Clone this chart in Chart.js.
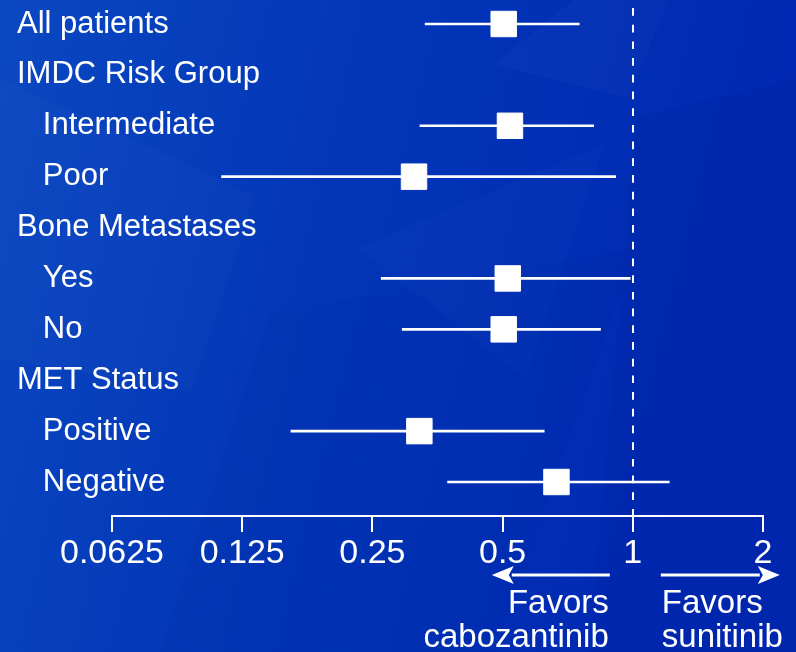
<!DOCTYPE html>
<html>
<head>
<meta charset="utf-8">
<script src="https://cdn.jsdelivr.net/npm/chart.js@4.4.1/dist/chart.umd.min.js"></script>
<style>
  html, body { margin: 0; padding: 0; background: #0234b5; overflow: hidden; }
  #wrap { width: 796px; height: 652px; position: relative; }
</style>
</head>
<body>
<div id="wrap"><canvas id="forest" width="796" height="652"></canvas></div>
<script>
// Subgroup rows, top to bottom
const rowLabels = ['All patients', 'IMDC Risk Group', 'Intermediate', 'Poor',
  'Bone Metastases', 'Yes', 'No', 'MET Status', 'Positive', 'Negative'];
const subRow = [false, false, true, true, false, true, true, false, true, true];

// Hazard ratio with 95% CI (null = group header row)
const hazardRatio = [0.503, null, 0.520, 0.312, null, 0.514, 0.503, null, 0.321, 0.666];
const ciLower     = [0.331, null, 0.322, 0.112, null, 0.262, 0.293, null, 0.162, 0.373];
const ciUpper     = [0.752, null, 0.812, 0.913, null, 0.986, 0.842, null, 0.624, 1.214];

// Axis
const tickValues = [0.0625, 0.125, 0.25, 0.5, 1, 2];
const tickLabels = ['0.0625', '0.125', '0.25', '0.5', '1', '2'];
const referenceHR = 1;
const favorsLeft = ['Favors', 'cabozantinib'];
const favorsRight = ['Favors', 'sunitinib'];

const FONT = '"Liberation Sans", Arial, Helvetica, sans-serif';
const WHITE = '#ffffff';

const markerPoints = [];
const whiskers = [];
rowLabels.forEach((_, i) => {
  if (hazardRatio[i] !== null) {
    markerPoints.push({ x: hazardRatio[i], y: i });
    whiskers.push({ x: [ciLower[i], ciUpper[i]], y: i });
  }
});

// Faceted blue backdrop
const backdrop = {
  id: 'backdrop',
  beforeDraw(chart) {
    const { ctx, width, height } = chart;
    ctx.save();
    const g = ctx.createLinearGradient(0, 0, width, height * 0.3);
    g.addColorStop(0, '#0a48c1');
    g.addColorStop(0.45, '#0336b7');
    g.addColorStop(1, '#0027b2');
    ctx.fillStyle = g;
    ctx.fillRect(0, 0, width, height);
    const facets = [
      { c: 'rgba(255,255,255,0.025)', p: [[0.72, 0], [0.84, 0], [0.79, 0.15], [0.62, 0.10]] },
      { c: 'rgba(255,255,255,0.018)', p: [[0, 0.12], [0.32, 0.30], [0.24, 0.60], [0, 0.55]] },
      { c: 'rgba(0,20,120,0.04)',     p: [[0.34, 0.48], [0.80, 0.38], [0.62, 1], [0.20, 1]] },
      { c: 'rgba(255,255,255,0.015)', p: [[0.45, 0.38], [0.76, 0.22], [0.66, 0.58]] },
      { c: 'rgba(0,10,100,0.05)',     p: [[0.80, 0.18], [1, 0.12], [1, 1], [0.74, 1]] }
    ];
    facets.forEach(f => {
      ctx.fillStyle = f.c;
      ctx.beginPath();
      f.p.forEach(([px, py], k) => {
        const X = px * width, Y = py * height;
        k ? ctx.lineTo(X, Y) : ctx.moveTo(X, Y);
      });
      ctx.closePath();
      ctx.fill();
    });
    ctx.restore();
  }
};

// Dashed line of no effect at HR = 1
const referenceLine = {
  id: 'referenceLine',
  beforeDatasetsDraw(chart) {
    const { ctx, chartArea } = chart;
    const x = Math.round(chart.scales.x.getPixelForValue(referenceHR));
    ctx.save();
    ctx.strokeStyle = WHITE;
    ctx.lineWidth = 2;
    ctx.setLineDash([7.7, 9]);
    ctx.beginPath();
    ctx.moveTo(x, chartArea.top + 8);
    ctx.lineTo(x, chartArea.bottom);
    ctx.stroke();
    ctx.restore();
  }
};

// Direction arrows and captions under the axis
const favorsNotes = {
  id: 'favorsNotes',
  afterDraw(chart) {
    const { ctx } = chart;
    const xs = chart.scales.x;
    const axisY = xs.top;
    const p1 = xs.getPixelForValue(referenceHR);
    const ay = axisY + 59;

    const arrow = (from, tip) => {
      const dir = Math.sign(tip - from);
      const headLen = 22, headHalf = 9;
      ctx.beginPath();
      ctx.moveTo(from, ay);
      ctx.lineTo(tip - dir * (headLen - 2), ay);
      ctx.stroke();
      ctx.beginPath();
      ctx.moveTo(tip, ay);
      ctx.lineTo(tip - dir * headLen, ay - headHalf);
      ctx.lineTo(tip - dir * (headLen - 5), ay);
      ctx.lineTo(tip - dir * headLen, ay + headHalf);
      ctx.closePath();
      ctx.fill();
    };

    ctx.save();
    ctx.strokeStyle = WHITE;
    ctx.fillStyle = WHITE;
    ctx.lineWidth = 3;
    arrow(p1 - 23, p1 - 141);
    arrow(p1 + 28, p1 + 147);

    ctx.font = '33px ' + FONT;
    ctx.textBaseline = 'alphabetic';
    ctx.textAlign = 'right';
    ctx.fillText(favorsLeft[0], p1 - 24, axisY + 97);
    ctx.fillText(favorsLeft[1], p1 - 24, axisY + 131);
    ctx.textAlign = 'left';
    ctx.fillText(favorsRight[0], p1 + 29, axisY + 97);
    ctx.fillText(favorsRight[1], p1 + 29, axisY + 131);
    ctx.restore();
  }
};

const Y_AXIS_WIDTH = 95;

new Chart(document.getElementById('forest'), {
  type: 'scatter',
  data: {
    datasets: [
      {
        type: 'scatter',
        data: markerPoints,
        pointStyle: 'rect',
        pointRadius: 18,
        pointHoverRadius: 18,
        backgroundColor: WHITE,
        borderColor: WHITE,
        borderWidth: 1,
        order: 1
      },
      {
        type: 'bar',
        indexAxis: 'y',
        data: whiskers,
        barThickness: 2,
        grouped: false,
        backgroundColor: WHITE,
        borderWidth: 0,
        order: 2
      }
    ]
  },
  options: {
    responsive: false,
    animation: false,
    events: [],
    layout: { autoPadding: false, padding: { left: 17, right: 33, top: 0, bottom: 0 } },
    plugins: { legend: { display: false }, tooltip: { enabled: false } },
    scales: {
      x: {
        type: 'logarithmic',
        position: 'bottom',
        min: tickValues[0],
        max: tickValues[tickValues.length - 1],
        bounds: 'data',
        offset: false,
        afterBuildTicks: s => { s.ticks = tickValues.map(v => ({ value: v })); },
        afterFit: s => { s.height = 136; s.paddingLeft = 0; s.paddingRight = 0; },
        grid: {
          display: true,
          drawOnChartArea: false,
          drawTicks: true,
          tickLength: 16,
          color: WHITE,
          lineWidth: 2,
          offset: false
        },
        border: { display: true, color: WHITE, width: 2 },
        ticks: {
          autoSkip: false,
          maxRotation: 0,
          padding: 1,
          color: WHITE,
          font: { family: FONT, size: 34 },
          callback: (v, i) => tickLabels[i]
        }
      },
      y: {
        type: 'linear',
        position: 'left',
        reverse: true,
        min: -0.4716,
        max: 9.668,
        bounds: 'data',
        offset: false,
        afterBuildTicks: s => { s.ticks = rowLabels.map((_, i) => ({ value: i })); },
        afterFit: s => { s.width = Y_AXIS_WIDTH; s.paddingTop = 0; s.paddingBottom = 0; },
        grid: { display: false, offset: false },
        border: { display: false },
        ticks: {
          autoSkip: false,
          mirror: true,
          crossAlign: 'near',
          padding: -Y_AXIS_WIDTH,
          color: WHITE,
          font: { family: FONT, size: 31, lineHeight: 0.01 },
          callback: v => (subRow[v] ? '   ' : '') + rowLabels[v]
        }
      }
    }
  },
  plugins: [backdrop, referenceLine, favorsNotes]
});
</script>
</body>
</html>
